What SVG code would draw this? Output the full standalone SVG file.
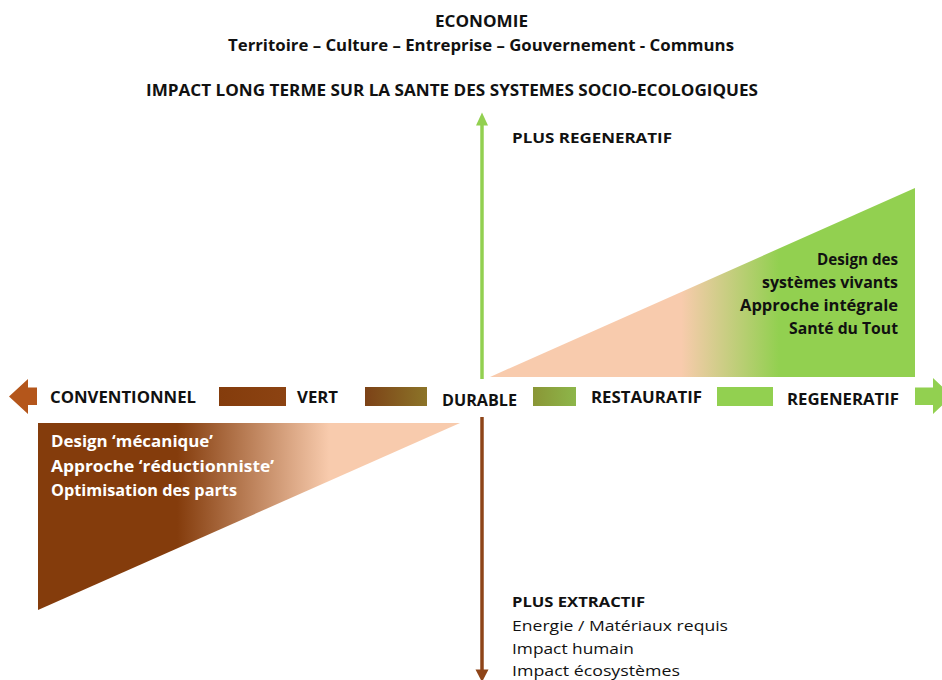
<svg xmlns="http://www.w3.org/2000/svg" width="942" height="680" viewBox="0 0 942 680">
<defs>
<linearGradient id="gGreenTri" gradientUnits="userSpaceOnUse" x1="490" y1="0" x2="915" y2="0">
<stop offset="0" stop-color="#F8CBAD"/><stop offset="0.45" stop-color="#F8CBAD"/><stop offset="0.68" stop-color="#92D050"/><stop offset="1" stop-color="#92D050"/>
</linearGradient>
<linearGradient id="gBrownTri" gradientUnits="userSpaceOnUse" x1="38" y1="0" x2="460" y2="0">
<stop offset="0" stop-color="#843C0C"/><stop offset="0.33" stop-color="#843C0C"/><stop offset="0.69" stop-color="#F8CBAD"/><stop offset="1" stop-color="#F8CBAD"/>
</linearGradient>
<linearGradient id="gVert" x1="0" y1="0" x2="1" y2="0"><stop offset="0" stop-color="#843C0C"/><stop offset="1" stop-color="#8C4312"/></linearGradient>
<linearGradient id="gDurable" x1="0" y1="0" x2="1" y2="0"><stop offset="0" stop-color="#7C4217"/><stop offset="1" stop-color="#8C7428"/></linearGradient>
<linearGradient id="gResto" x1="0" y1="0" x2="1" y2="0"><stop offset="0" stop-color="#8A9636"/><stop offset="1" stop-color="#8DB64A"/></linearGradient>
</defs>
<style>
text{font-family:"Open Sans","Liberation Sans",sans-serif;fill:#111;}
.b{font-weight:bold;}
.t{font-size:15.5px;}
.ax{font-size:16px;}
.tri{font-size:16px;font-weight:bold;}
.w{fill:#fff;}
.r{font-size:14px;}
.gline{stroke:#92D050;stroke-width:3.5;fill:none;}
.bline{stroke:#8E4418;stroke-width:3.5;fill:none;}
</style>
<rect width="942" height="680" fill="#fff"/>

<g id="titles">
<text class="b t" x="435" y="27" textLength="93" lengthAdjust="spacingAndGlyphs">ECONOMIE</text>
<text class="b t" x="228" y="51" textLength="506" lengthAdjust="spacingAndGlyphs">Territoire – Culture – Entreprise – Gouvernement - Communs</text>
<text class="b t" x="146" y="96" textLength="612" lengthAdjust="spacingAndGlyphs">IMPACT LONG TERME SUR LA SANTE DES SYSTEMES SOCIO-ECOLOGIQUES</text>
</g>

<g id="regen-triangle">
<polygon points="490,377 915,188 915,377" fill="url(#gGreenTri)"/>
<text class="tri" x="817" y="265" textLength="81" lengthAdjust="spacingAndGlyphs">Design des</text>
<text class="tri" x="762" y="288" textLength="136" lengthAdjust="spacingAndGlyphs">systèmes vivants</text>
<text class="tri" x="740" y="311" textLength="158" lengthAdjust="spacingAndGlyphs">Approche intégrale</text>
<text class="tri" x="789" y="334" textLength="109" lengthAdjust="spacingAndGlyphs">Santé du Tout</text>
</g>

<g id="conv-triangle">
<polygon points="38,423 460,423 38,610" fill="url(#gBrownTri)"/>
<text class="tri w" x="51" y="447" textLength="162" lengthAdjust="spacingAndGlyphs">Design ‘mécanique’</text>
<text class="tri w" x="51" y="472" textLength="223" lengthAdjust="spacingAndGlyphs">Approche  ‘réductionniste’</text>
<text class="tri w" x="51" y="496" textLength="186" lengthAdjust="spacingAndGlyphs">Optimisation des parts</text>
</g>

<g id="connectors">
<line class="gline" x1="482" y1="124" x2="482" y2="379"/>
<polygon points="476,125.5 482,112.5 488,125.5" fill="#92D050"/>
<line class="bline" x1="482" y1="417" x2="482" y2="671"/>
<polygon points="475.5,669.5 488.5,669.5 482,682" fill="#8E4418"/>
<polygon points="9,396.5 28,379 28,387.5 37,387.5 37,405 28,405 28,414" fill="#B4561B"/>
<polygon points="915,387.5 933,387.5 933,378 952,396 933,414 933,405 915,405" fill="#92D050"/>
</g>

<g id="conventionnel">
<text class="b ax" x="50" y="403" textLength="146" lengthAdjust="spacingAndGlyphs">CONVENTIONNEL</text>
</g>
<g id="vert">
<rect x="219" y="387" width="67" height="19" fill="url(#gVert)"/>
<text class="b ax" x="297" y="403" textLength="41" lengthAdjust="spacingAndGlyphs">VERT</text>
</g>
<g id="durable">
<rect x="365" y="387" width="62" height="19" fill="url(#gDurable)"/>
<text class="b ax" x="442" y="406" textLength="75" lengthAdjust="spacingAndGlyphs">DURABLE</text>
</g>
<g id="restauratif">
<rect x="533" y="387" width="43" height="19" fill="url(#gResto)"/>
<text class="b ax" x="591" y="403" textLength="111" lengthAdjust="spacingAndGlyphs">RESTAURATIF</text>
</g>
<g id="regeneratif">
<rect x="717" y="387" width="56" height="19" fill="#92D050"/>
<text class="b ax" x="787" y="405" textLength="112" lengthAdjust="spacingAndGlyphs">REGENERATIF</text>
</g>

<g id="plus-regeneratif">
<text class="b r" x="512" y="143" textLength="160" lengthAdjust="spacingAndGlyphs">PLUS REGENERATIF</text>
</g>

<g id="plus-extractif">
<text class="b r" x="512" y="607" textLength="133" lengthAdjust="spacingAndGlyphs">PLUS EXTRACTIF</text>
<text class="r" x="512" y="631" textLength="216" lengthAdjust="spacingAndGlyphs">Energie / Matériaux requis</text>
<text class="r" x="512" y="654" textLength="122" lengthAdjust="spacingAndGlyphs">Impact humain</text>
<text class="r" x="512" y="676" textLength="168" lengthAdjust="spacingAndGlyphs">Impact écosystèmes</text>
</g>
</svg>
